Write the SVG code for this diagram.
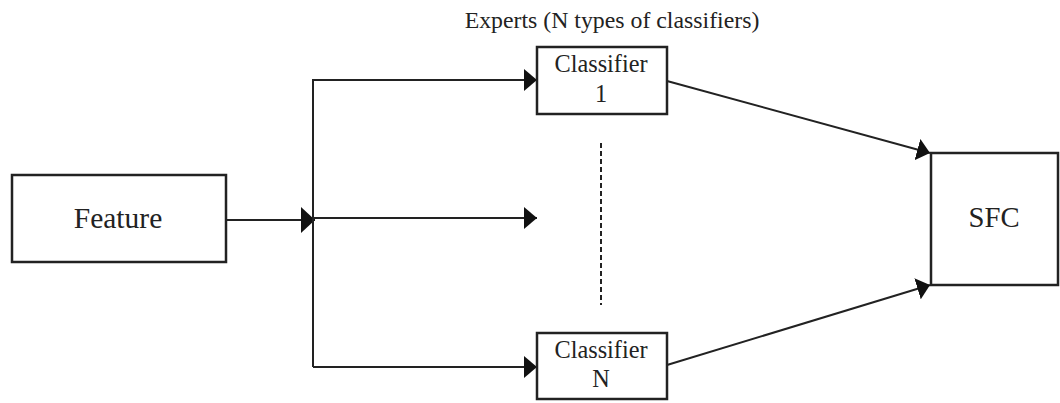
<svg xmlns="http://www.w3.org/2000/svg" width="1060" height="403" viewBox="0 0 1060 403">
  <style>
    .box { fill: #fff; stroke: #222; stroke-width: 2.5; }
    .lbl { fill: #222; text-anchor: middle; }
    .wire { fill: none; stroke: #222; stroke-width: 2; }
  </style>
  <defs>
    <!-- narrow, tall filled arrowhead -->
    <marker id="head" viewBox="0 0 13 22" refX="13" refY="11" markerWidth="13" markerHeight="22" markerUnits="userSpaceOnUse" orient="auto">
      <path d="M0,0 L13,11 L0,22 z" fill="#111"/>
    </marker>
    <marker id="headBig" viewBox="0 0 14 26" refX="14" refY="13" markerWidth="14" markerHeight="26" markerUnits="userSpaceOnUse" orient="auto">
      <path d="M0,0 L14,13 L0,26 z" fill="#111"/>
    </marker>
  </defs>
  <rect width="1060" height="403" fill="#fff"/>

  <g font-family="'Liberation Serif', 'Times New Roman', 'DejaVu Serif', serif">
    <text class="lbl" x="612" y="28" font-size="23.8">Experts (N types of classifiers)</text>

    <g id="connectors">
      <line class="wire" x1="226" y1="220" x2="315" y2="220" stroke-width="3" marker-end="url(#headBig)"/>
      <polyline class="wire" points="313,367 313,80 537,80" marker-end="url(#head)"/>
      <polyline class="wire" points="313,367 537,367" marker-end="url(#head)"/>
      <line class="wire" x1="313" y1="218" x2="537" y2="218" marker-end="url(#head)"/>
      <line x1="601" y1="143" x2="601" y2="305" stroke="#222" stroke-width="2" stroke-dasharray="5,3"/>
      <line class="wire" x1="667" y1="81" x2="930" y2="153" marker-end="url(#head)"/>
      <line class="wire" x1="667" y1="365" x2="930" y2="285" marker-end="url(#head)"/>
    </g>

    <g id="feature">
      <rect class="box" x="12" y="175" width="214" height="87"/>
      <text class="lbl" x="118" y="228" font-size="29.5">Feature</text>
    </g>

    <g id="classifier1">
      <rect class="box" x="537" y="47" width="130" height="67"/>
      <text class="lbl" x="601" y="72" font-size="24.3">Classifier</text>
      <text class="lbl" x="601" y="102" font-size="24.3">1</text>
    </g>

    <g id="classifierN">
      <rect class="box" x="537" y="333" width="130" height="66"/>
      <text class="lbl" x="601" y="358" font-size="24.3">Classifier</text>
      <text class="lbl" x="601" y="387" font-size="24.3">N</text>
    </g>

    <g id="sfc">
      <rect class="box" x="931" y="153" width="127" height="132" stroke-width="3"/>
      <text class="lbl" x="994" y="227" font-size="28.7">SFC</text>
    </g>
  </g>
</svg>
